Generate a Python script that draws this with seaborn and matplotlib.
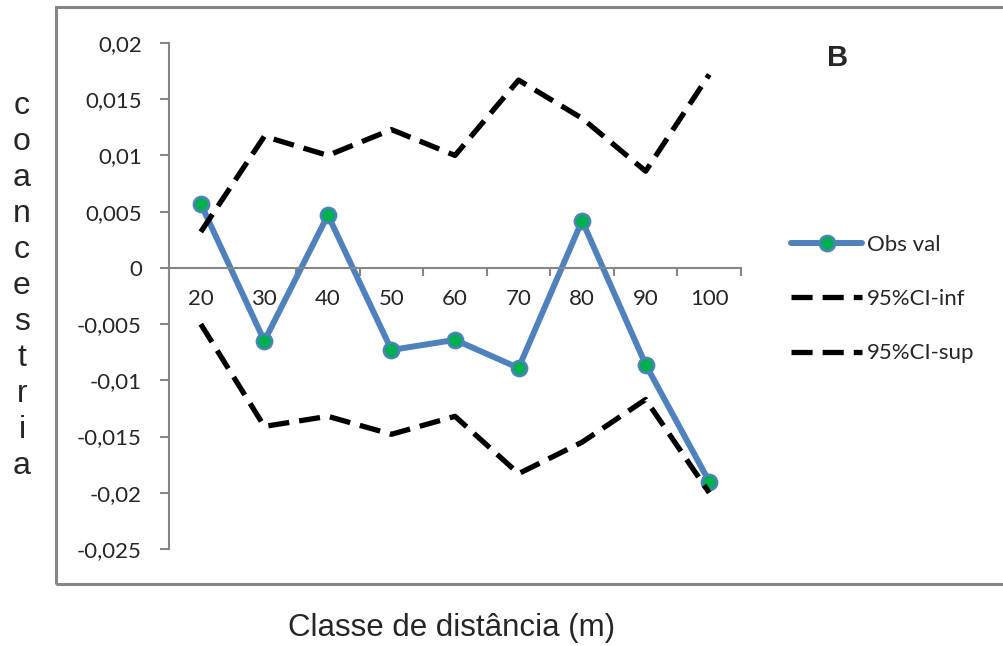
import numpy as np
import pandas as pd
import matplotlib
matplotlib.use("Agg")
import matplotlib.pyplot as plt
import matplotlib.patches as patches
import seaborn as sns

# values
classes = ["20", "30", "40", "50", "60", "70", "80", "90", "100"]
obs_val = [0.0057, -0.0065, 0.0047, -0.0073, -0.0064, -0.0089, 0.0042, -0.0086, -0.0190]
ci_sup = [0.0032, 0.0117, 0.0100, 0.0123, 0.0100, 0.0167, 0.0133, 0.0086, 0.0172]
ci_inf = [-0.0050, -0.0141, -0.0132, -0.0148, -0.0132, -0.0183, -0.0155, -0.0117, -0.0200]

y_ticks = [0.02, 0.015, 0.01, 0.005, 0, -0.005, -0.01, -0.015, -0.02, -0.025]
y_tick_labels = ["0,02", "0,015", "0,01", "0,005", "0", "-0,005", "-0,01", "-0,015", "-0,02", "-0,025"]

df = pd.DataFrame({"pos": np.arange(len(classes)), "obs": obs_val,
                   "inf": ci_inf, "sup": ci_sup})

sns.set_style("white")
plt.rcParams["font.family"] = ["Lato", "DejaVu Sans"]

grey = "#868686"
blue = "#4F81BD"
green = "#00B050"

fig = plt.figure(figsize=(10.04, 6.46), dpi=100)
ax = fig.add_axes([169 / 1004, 97 / 646, 572 / 1004, 506 / 646])

sns.lineplot(data=df, x="pos", y="obs", ax=ax, color=blue, lw=4.3,
             marker="o", markersize=11, markerfacecolor=green,
             markeredgecolor=blue, markeredgewidth=1.8, label="Obs val")
sns.lineplot(data=df, x="pos", y="inf", ax=ax, color="black", lw=3.8,
             ls=(0, (4, 1.9)), label="95%CI-inf")
sns.lineplot(data=df, x="pos", y="sup", ax=ax, color="black", lw=3.8,
             ls=(0, (4, 1.9)), label="95%CI-sup")

ax.set_xlim(-0.5, len(classes) - 0.5)
ax.set_ylim(-0.025, 0.02)
ax.set_xlabel("")
ax.set_ylabel("")

ax.set_xticks(df["pos"])
ax.set_xticklabels(classes)
ax.set_xticks(np.arange(-0.5, len(classes)), minor=True)
ax.tick_params(axis="x", which="major", length=0, pad=15, labelsize=16)
ax.tick_params(axis="x", which="minor", length=6, width=1.5, color=grey,
               direction="out", bottom=True)

ax.set_yticks(y_ticks)
ax.set_yticklabels(y_tick_labels)
ax.tick_params(axis="y", length=6.5, width=1.5, color=grey, pad=13, left=True,
               labelsize=16)

for side in ["top", "right"]:
    ax.spines[side].set_visible(False)
ax.spines["bottom"].set_position(("data", 0))
for side in ["left", "bottom"]:
    ax.spines[side].set_color(grey)
    ax.spines[side].set_linewidth(1.5)

ax.legend(loc="center left", bbox_to_anchor=(791 / 1004, 1 - 299 / 646),
          bbox_transform=fig.transFigure, frameon=False, fontsize=16,
          handlelength=3.2, handletextpad=0.2, labelspacing=1.55,
          borderpad=0, borderaxespad=0)

# outer chart border
fig.patches.append(patches.Rectangle((56 / 1004, 62 / 646), 1.0, 577 / 646,
                                     transform=fig.transFigure, fill=False,
                                     edgecolor=grey, lw=2.2, clip_on=False))

fig.text(838 / 1004, 1 - 58 / 646, "B", fontsize=21, fontweight="bold",
         family="Liberation Sans", ha="center", va="center")
fig.text(22 / 1004, 1 - 286 / 646, "\n".join("coancestria"), fontsize=23,
         family="Liberation Sans", ha="center", va="center", linespacing=1.26)
fig.text(452 / 1004, 1 - 628 / 646, "Classe de distância (m)", fontsize=22.5,
         family="Liberation Sans", ha="center", va="center")

fig.savefig("out.png", dpi=100)
